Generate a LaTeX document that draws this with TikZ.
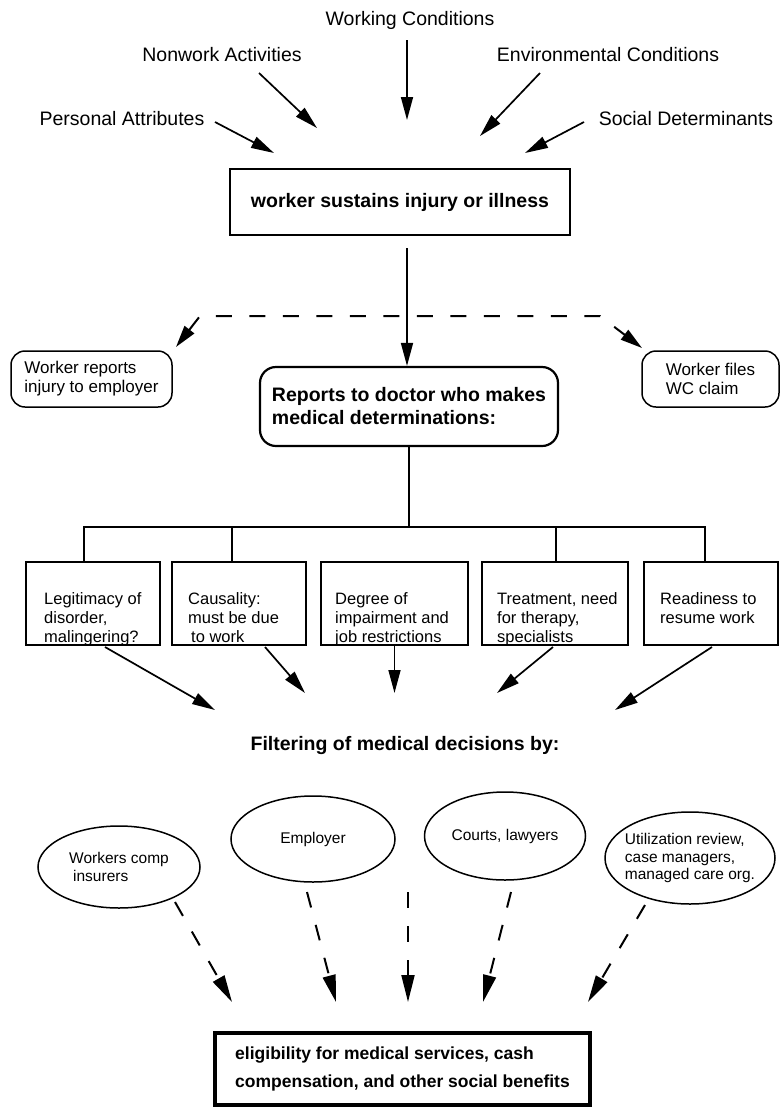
\documentclass[tikz,border=0pt]{standalone}
\usepackage{fontspec}
\setmainfont{Liberation Sans}
\usetikzlibrary{arrows.meta,shapes.geometric}
\begin{document}
\begin{tikzpicture}[x=1pt,y=-1pt,
  lab/.style={font=\fontsize{19.5}{22}\selectfont, inner sep=0pt},
  arr/.style={line width=1.7pt, -{Triangle[length=23pt,width=12pt]}},
  darr/.style={line width=2pt, dash pattern=on 16pt off 18pt, -{Triangle[length=27pt,width=13pt]}},
  conn/.style={line width=2pt},
  smallbox/.style={draw, rounded corners=14pt, line width=1.5pt, inner sep=0pt, align=left,
    font=\fontsize{17}{19}\selectfont},
  detbox/.style={draw, line width=2.3pt, inner sep=0pt, minimum height=83pt},
  dettext/.style={anchor=north west, inner sep=0pt, align=left, font=\fontsize{16.5}{19}\selectfont},
  ell/.style={ellipse, draw, line width=1.5pt, inner sep=0pt},
  elltext/.style={inner sep=0pt, align=left, font=\fontsize{15.5}{17.5}\selectfont}]
\useasboundingbox (0,0) rectangle (780,1120);
\fill[white] (0,0) rectangle (780,1120);

% top influences
\node[lab] (work) at (410,20) {Working Conditions};
\node[lab] (nonwork) at (222,55) {Nonwork Activities};
\node[lab] (env) at (608,55) {Environmental Conditions};
\node[lab] (pers) at (122,119) {Personal Attributes};
\node[lab] (soc) at (686,119) {Social Determinants};

\coordinate (w1) at (407,40);  \coordinate (w2) at (407,120);
\coordinate (n1) at (259,73);  \coordinate (n2) at (317,128);
\coordinate (e1) at (540,73);  \coordinate (e2) at (480,136);
\coordinate (p1) at (215,122); \coordinate (p2) at (274,153);
\coordinate (s1) at (584,122); \coordinate (s2) at (525,153);
\draw[arr] (w1) -- (w2);
\draw[arr] (n1) -- (n2);
\draw[arr] (e1) -- (e2);
\draw[arr] (p1) -- (p2);
\draw[arr] (s1) -- (s2);

% injury box
\node[draw, line width=2.6pt, minimum width=340pt, minimum height=66pt, inner sep=0pt,
  font=\bfseries\fontsize{19.5}{22}\selectfont] (injury) at (400,202) {worker sustains injury or illness};

% doctor box
\node[draw, rounded corners=16pt, line width=2.2pt, minimum width=298pt, minimum height=79pt,
  inner sep=0pt, align=left, font=\bfseries\fontsize{19.5}{23}\selectfont] (doctor) at (409,406.5)
  {Reports to doctor who makes\\medical determinations:};

\coordinate (m1) at (407,248);
\draw[arr] (m1) -- (m1 |- doctor.north);

% side boxes
\node[smallbox, minimum width=161pt, minimum height=56pt] (report) at (91.5,379) {Worker reports\\injury to employer};
\node[smallbox, minimum width=137pt, minimum height=56pt] (files) at (710.5,379) {Worker files\\WC claim};

\coordinate (tl) at (176,347);
\coordinate (dl) at (200,316);
\coordinate (dr) at (600,316);
\coordinate (tr) at (642,348);
\draw[line width=2pt, dash pattern=on 16pt off 17.5pt,
  {Triangle[length=22pt,width=12pt]}-{Triangle[length=22pt,width=12pt]}] (tl) -- (dl) -- (dr) -- (tr);

% determination boxes
\node[detbox, minimum width=134pt] (b1) at (93,603.5) {};
\node[detbox, minimum width=134pt] (b2) at (239,603.5) {};
\node[detbox, minimum width=147pt] (b3) at (394.5,603.5) {};
\node[detbox, minimum width=146pt] (b4) at (555,603.5) {};
\node[detbox, minimum width=134pt] (b5) at (711,603.5) {};
\node[dettext] (t1) at (44,592) {Legitimacy of\\disorder,\\malingering?};
\node[dettext] (t2) at (188,592) {Causality:\\must be due\\\hspace{3pt}to work};
\node[dettext] (t3) at (335,592) {Degree of\\impairment and\\job restrictions};
\node[dettext] (t4) at (497,592) {Treatment, need\\for therapy,\\specialists};
\node[dettext] (t5) at (660,592) {Readiness to\\resume work};

\coordinate (c1) at (84,527);
\coordinate (c2) at (232,527);
\coordinate (c4) at (556,527);
\coordinate (c5) at (705,527);
\draw[conn] (doctor.south) -- (doctor.south |- c1);
\draw[conn] (c1 |- b1.north) -- (c1) -- (c5) -- (c5 |- b5.north);
\draw[conn] (c2) -- (c2 |- b2.north);
\draw[conn] (c4) -- (c4 |- b4.north);

% arrows to filtering
\coordinate (a1s) at (105,647); \coordinate (a1e) at (215,710);
\coordinate (a2s) at (265,647); \coordinate (a2e) at (305,693);
\coordinate (a3e) at (394.5,693);
\coordinate (a4s) at (553,647); \coordinate (a4e) at (497,693);
\coordinate (a5s) at (712,647); \coordinate (a5e) at (615,710);
\draw[arr] (a1s) -- (a1e);
\draw[arr] (a2s) -- (a2e);
\draw[arr] (b3.south) -- (a3e);
\draw[arr] (a4s) -- (a4e);
\draw[arr] (a5s) -- (a5e);

\node[font=\bfseries\fontsize{19.5}{22}\selectfont, inner sep=0pt] (filter) at (405,745) {Filtering of medical decisions by:};

% filters
\node[ell, minimum width=162pt, minimum height=82pt] (wc) at (119,867) {};
\node[elltext] (wct) at (wc.center) {Workers comp\\\hspace{4pt}insurers};
\node[ell, minimum width=164pt, minimum height=86pt] (emp) at (313,839) {};
\node[elltext] (empt) at (emp.center) {Employer};
\node[ell, minimum width=161pt, minimum height=88pt] (court) at (505,836) {};
\node[elltext] (courtt) at (court.center) {Courts, lawyers};
\node[ell, minimum width=170pt, minimum height=92pt] (ur) at (690,858) {};
\node[elltext] (urt) at (ur.center) {Utilization review,\\case managers,\\managed care org.};

% dashed arrows to eligibility
\coordinate (d1s) at (175,902); \coordinate (d1e) at (232,1002);
\coordinate (d2s) at (307,892); \coordinate (d2e) at (336,1002);
\coordinate (d3s) at (408,892); \coordinate (d3e) at (408,1002);
\coordinate (d4s) at (511,892); \coordinate (d4e) at (483,1002);
\coordinate (d5s) at (645,905); \coordinate (d5e) at (588,1002);
\draw[darr] (d1s) -- (d1e);
\draw[darr] (d2s) -- (d2e);
\draw[darr] (d3s) -- (d3e);
\draw[darr] (d4s) -- (d4e);
\draw[darr] (d5s) -- (d5e);

\node[draw, line width=4.5pt, minimum width=375pt, minimum height=72pt, inner sep=0pt, align=left,
  font=\bfseries\fontsize{17.5}{28}\selectfont] (elig) at (402.5,1069)
  {eligibility for medical services, cash\\compensation, and other social benefits};
\end{tikzpicture}
\end{document}
